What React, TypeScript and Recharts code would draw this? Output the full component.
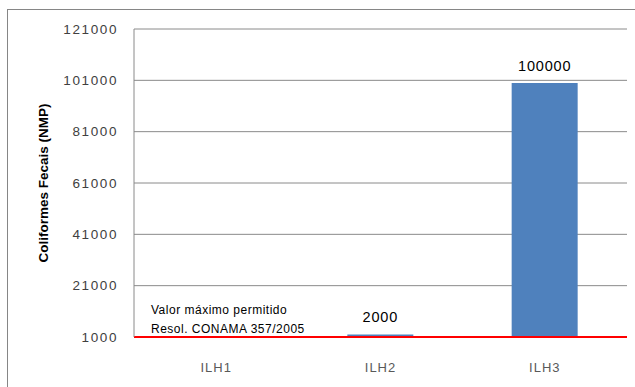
import React from "react";
import {
  BarChart,
  Bar,
  XAxis,
  YAxis,
  CartesianGrid,
  ReferenceLine,
  LabelList,
  Label,
} from "recharts";

// Sampling points and fecal coliform counts (NMP)
const categories = ["ILH1", "ILH2", "ILH3"];
const coliformValues: (number | null)[] = [null, 2000, 100000];
const yTicks = [1000, 21000, 41000, 61000, 81000, 101000, 121000];
const limitValue = 1000;
const limitLines = ["Valor máximo permitido", "Resol. CONAMA 357/2005"];
const yTitle = "Coliformes Fecais (NMP)";

const data = categories.map((name, i) => ({ name, value: coliformValues[i] }));

const FONT = "'Liberation Sans', Arial, sans-serif";

const LimitLabel = (props: any) => {
  const { viewBox } = props;
  const x = viewBox.x + 17;
  const y = viewBox.y;
  return (
    <g>
      <text x={x} y={y - 23} fontFamily={FONT} fontSize={12} letterSpacing={0.5} fill="#000">
        {limitLines[0]}
      </text>
      <text x={x} y={y - 4} fontFamily={FONT} fontSize={12} letterSpacing={0.5} fill="#000">
        {limitLines[1]}
      </text>
    </g>
  );
};

const YTitle = (props: any) => {
  const { viewBox } = props;
  const cx = viewBox.x - 11;
  const cy = viewBox.y + viewBox.height / 2 - 0;
  return (
    <text
      x={cx}
      y={cy}
      transform={`rotate(-90, ${cx}, ${cy})`}
      textAnchor="middle"
      dominantBaseline="central"
      fontFamily={FONT}
      fontSize={13.5}
      fontWeight="bold"
      fill="#000"
    >
      {yTitle}
    </text>
  );
};

export default function App() {
  return (
    <div style={{ position: "absolute", left: 0, top: 0, width: 635, height: 387, overflow: "hidden", background: "#fff" }}>
      <div
        style={{
          position: "absolute",
          left: 7,
          top: 9,
          width: 700,
          height: 500,
          border: "1px solid #868686",
        }}
      />
      <div style={{ position: "absolute", left: 0, top: 0 }}>
        <BarChart
          width={635}
          height={387}
          data={data}
          margin={{ top: 29, right: 8, bottom: 20, left: 54 }}
          barCategoryGap="30%"
        >
          <CartesianGrid vertical={false} stroke="#8a8a8a" strokeWidth={1} />
          <XAxis
            dataKey="name"
            height={30}
            axisLine={false}
            tickLine={false}
            tickMargin={20}
            tick={{ fontFamily: FONT, fontSize: 13, fill: "#595959", letterSpacing: 1 }}
          />
          <YAxis
            width={80}
            domain={[1000, 121000]}
            ticks={yTicks}
            interval={0}
            allowDataOverflow
            axisLine={{ stroke: "#8a8a8a" }}
            tickLine={false}
            tickMargin={10}
            tick={{ fontFamily: FONT, fontSize: 13.5, fill: "#404040", letterSpacing: 1.6 }}
          >
            <Label content={<YTitle />} />
          </YAxis>
          <Bar dataKey="value" fill="#4f81bd" isAnimationActive={false} barSize={66}>
            <LabelList
              dataKey="value"
              position="top"
              offset={12}
              style={{ fontFamily: FONT, fontSize: 14.5, fill: "#000", letterSpacing: 0.8 }}
            />
          </Bar>
          <ReferenceLine y={limitValue} stroke="#ff0000" strokeWidth={2} label={<LimitLabel />} />
        </BarChart>
      </div>
    </div>
  );
}
